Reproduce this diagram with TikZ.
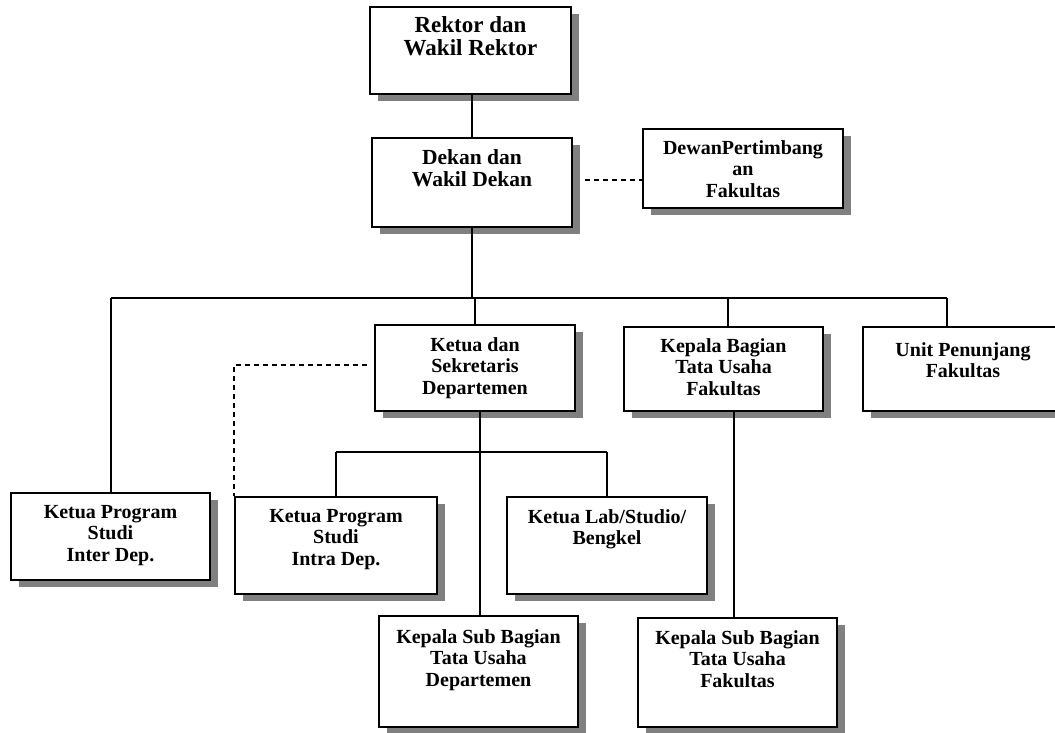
\documentclass[tikz,border=0pt]{standalone}
\usepackage{fontspec}
\setmainfont{Liberation Serif}
\usetikzlibrary{shadows}
\begin{document}
\begin{tikzpicture}[x=1pt,y=-1pt,
  box/.style={draw, line width=2pt, fill=white, inner sep=0pt,
    drop shadow={shadow xshift=8pt, shadow yshift=-7pt, fill=black!50, opacity=1}},
  lbl/.style={anchor=north, inner sep=0pt, align=center,
    font=\bfseries\fontsize{20}{21.5}\selectfont},
  biglbl/.style={lbl, font=\bfseries\fontsize{23}{23}\selectfont},
  midlbl/.style={lbl, font=\bfseries\fontsize{21.5}{22.5}\selectfont},
  conn/.style={line width=2pt},
  dashconn/.style={line width=2.6pt, dash pattern=on 5pt off 4pt}]
\useasboundingbox (0,0) rectangle (1055,732);
\fill[white] (0,0) rectangle (1055,732);

% boxes
\node[box, minimum width=201pt, minimum height=87pt] (rektor) at (470.5,50.5) {};
\node[box, minimum width=200pt, minimum height=89pt] (dekan) at (472,182.5) {};
\node[box, minimum width=200pt, minimum height=79pt] (dewan) at (743,168.5) {};
\node[box, minimum width=200pt, minimum height=86pt] (ketua) at (475,368) {};
\node[box, minimum width=199pt, minimum height=84pt] (kabag) at (723.5,369) {};
\node[box, minimum width=200pt, minimum height=84pt] (unit) at (963,369) {};
\node[box, minimum width=199pt, minimum height=87pt] (inter) at (110.5,536.5) {};
\node[box, minimum width=202pt, minimum height=97pt] (intra) at (336,545.5) {};
\node[box, minimum width=200pt, minimum height=97pt] (lab) at (607,545.5) {};
\node[box, minimum width=199pt, minimum height=111pt] (subdept) at (478.5,671.5) {};
\node[box, minimum width=199pt, minimum height=109pt] (subfak) at (737.5,672.5) {};

% texts
\node[biglbl] (rektor-t) at ([yshift=-10pt]rektor.north) {Rektor dan\\Wakil Rektor};
\node[midlbl] (dekan-t) at ([yshift=-12pt]dekan.north) {Dekan dan\\Wakil Dekan};
\node[lbl] (dewan-t) at ([yshift=-12pt]dewan.north) {DewanPertimbang\\an\\Fakultas};
\node[lbl] (ketua-t) at ([yshift=-13pt]ketua.north) {Ketua dan\\Sekretaris\\Departemen};
\node[lbl] (kabag-t) at ([yshift=-12pt]kabag.north) {Kepala Bagian\\Tata Usaha\\Fakultas};
\node[lbl] (unit-t) at ([yshift=-16pt]unit.north) {Unit Penunjang\\Fakultas};
\node[lbl] (inter-t) at ([yshift=-13pt]inter.north) {Ketua Program\\Studi\\Inter Dep.};
\node[lbl] (intra-t) at ([yshift=-13pt]intra.north) {Ketua Program\\Studi\\Intra Dep.};
\node[lbl] (lab-t) at ([yshift=-13pt]lab.north) {Ketua Lab/Studio/\\Bengkel};
\node[lbl] (subdept-t) at ([yshift=-14pt]subdept.north) {Kepala Sub Bagian\\Tata Usaha\\Departemen};
\node[lbl] (subfak-t) at ([yshift=-13pt]subfak.north) {Kepala Sub Bagian\\Tata Usaha\\Fakultas};

% connectors
\draw[conn] (rektor.south -| dekan.north) -- (dekan.north);
\coordinate (dw) at (585,180);
\draw[dashconn] (dw) -- (dw -| dewan.west);

\coordinate (bus) at (473,298);
\coordinate (busR) at (947,298);
\coordinate (kabagdrop) at (728,298);
\draw[conn] (dekan.south) -- (dekan.south |- bus);
\draw[conn] (inter.north |- bus) -- (busR);
\draw[conn] (inter.north |- bus) -- (inter.north);
\draw[conn] (ketua.north |- bus) -- (ketua.north);
\draw[conn] (kabagdrop) -- (kabagdrop |- kabag.north);
\draw[conn] (busR) -- (busR |- unit.north);

\coordinate (kx) at (480,452);
\draw[conn] (kx |- ketua.south) -- (kx |- subdept.north);
\draw[conn] (intra.north |- kx) -- (lab.north |- kx);
\draw[conn] (intra.north |- kx) -- (intra.north);
\draw[conn] (lab.north |- kx) -- (lab.north);

\coordinate (kbx) at (734,400);
\draw[conn] (kbx |- kabag.south) -- (kbx |- subfak.north);

\coordinate (dk) at (367,365);
\draw[dashconn] (dk) -| (intra.north west);
\end{tikzpicture}
\end{document}
